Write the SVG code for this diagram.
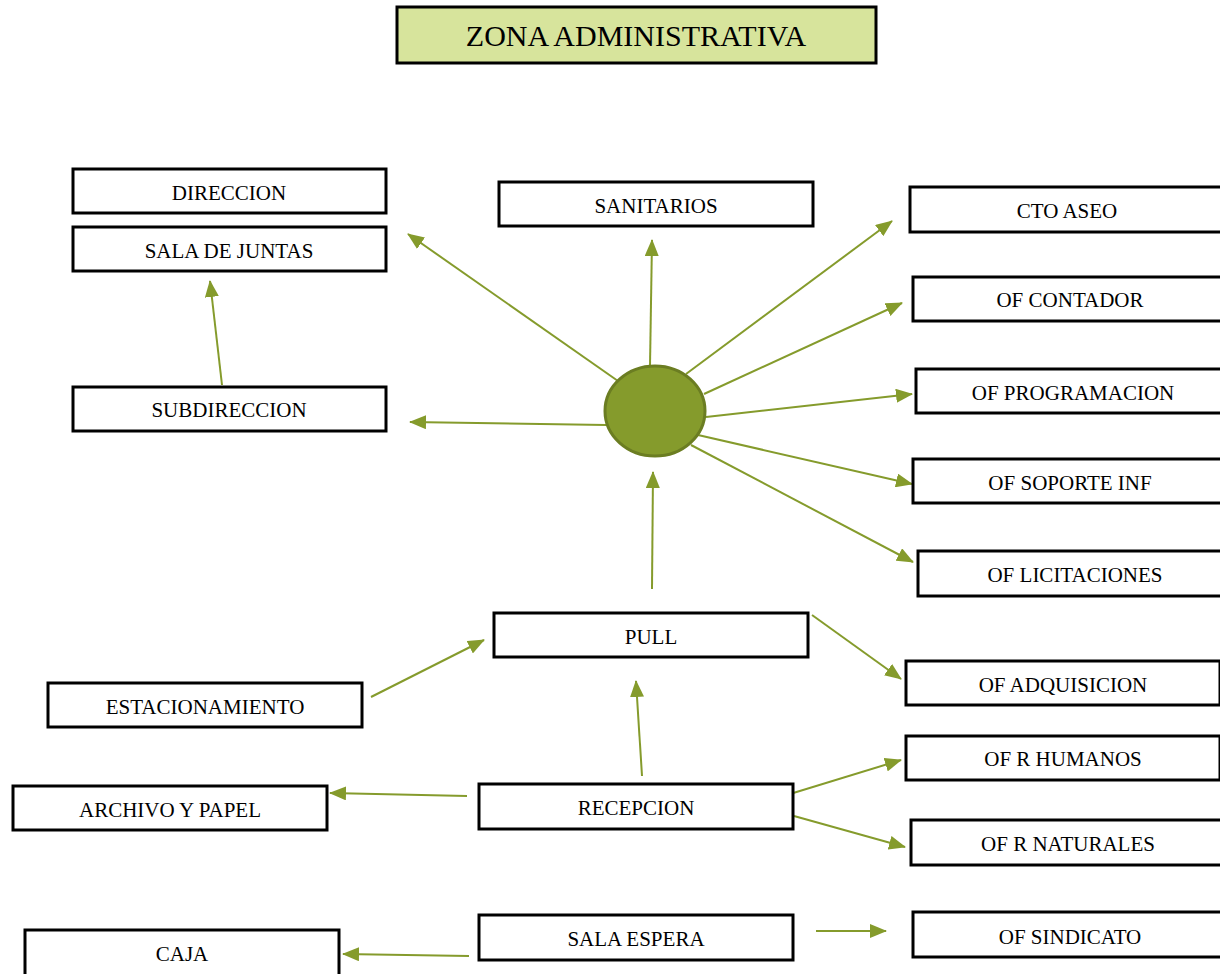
<svg xmlns="http://www.w3.org/2000/svg" width="1220" height="974" viewBox="0 0 1220 974">
<defs>
<marker id="ah" markerUnits="userSpaceOnUse" markerWidth="18" markerHeight="14" refX="16" refY="7" orient="auto">
<path d="M0,0 L17,7 L0,14 Z" fill="#859b2c"/>
</marker>
<style>
.box{fill:#fff;stroke:#000;stroke-width:3}
.t{font-family:"Liberation Serif","Times New Roman",serif;font-size:21px;fill:#000;text-anchor:middle}
.c{stroke:#859b2c;stroke-width:2;fill:none;marker-end:url(#ah)}
</style>
</defs>
<rect width="1220" height="974" fill="#fff"/>
<g id="title"><rect x="397" y="7" width="479" height="56" fill="#d7e49c" stroke="#000" stroke-width="3"/><text x="636" y="46" class="t" style="font-size:30px">ZONA ADMINISTRATIVA</text></g>
<g id="connectors">
<line class="c" x1="618" y1="381" x2="408" y2="234"/>
<line class="c" x1="650" y1="366" x2="652" y2="240"/>
<line class="c" x1="686" y1="374" x2="892" y2="221"/>
<line class="c" x1="704" y1="394" x2="902" y2="303"/>
<line class="c" x1="706" y1="417" x2="912" y2="394"/>
<line class="c" x1="698" y1="435" x2="912" y2="484"/>
<line class="c" x1="691" y1="445" x2="913" y2="562"/>
<line class="c" x1="606" y1="425" x2="410" y2="422"/>
<line class="c" x1="222" y1="385" x2="210" y2="281"/>
<line class="c" x1="652" y1="589" x2="653" y2="472"/>
<line class="c" x1="371" y1="697" x2="484" y2="640"/>
<line class="c" x1="812" y1="615" x2="901" y2="679"/>
<line class="c" x1="642" y1="776" x2="636" y2="681"/>
<line class="c" x1="467" y1="796" x2="330" y2="793"/>
<line class="c" x1="790" y1="794" x2="901" y2="760"/>
<line class="c" x1="794" y1="816" x2="905" y2="847"/>
<line class="c" x1="816" y1="931" x2="886" y2="931"/>
<line class="c" x1="469" y1="956" x2="343" y2="954"/>
</g>
<g id="hub"><ellipse cx="655" cy="411" rx="50" ry="45" fill="#859b2c" stroke="#6b7d22" stroke-width="3"/></g>
<g id="direccion"><rect class="box" x="73" y="169" width="313" height="44"/><text class="t" x="229" y="200">DIRECCION</text></g>
<g id="sala-juntas"><rect class="box" x="73" y="227" width="313" height="44"/><text class="t" x="229" y="258">SALA DE JUNTAS</text></g>
<g id="subdireccion"><rect class="box" x="73" y="387" width="313" height="44"/><text class="t" x="229" y="417">SUBDIRECCION</text></g>
<g id="sanitarios"><rect class="box" x="499" y="182" width="314" height="44"/><text class="t" x="656" y="213">SANITARIOS</text></g>
<g id="cto-aseo"><rect class="box" x="910" y="187" width="314" height="45"/><text class="t" x="1067" y="218">CTO ASEO</text></g>
<g id="of-contador"><rect class="box" x="913" y="277" width="314" height="44"/><text class="t" x="1070" y="307">OF CONTADOR</text></g>
<g id="of-programacion"><rect class="box" x="916" y="369" width="314" height="44"/><text class="t" x="1073" y="400">OF PROGRAMACION</text></g>
<g id="of-soporte"><rect class="box" x="913" y="459" width="314" height="44"/><text class="t" x="1070" y="490">OF SOPORTE INF</text></g>
<g id="of-licitaciones"><rect class="box" x="918" y="551" width="314" height="45"/><text class="t" x="1075" y="582">OF LICITACIONES</text></g>
<g id="pull"><rect class="box" x="494" y="613" width="314" height="44"/><text class="t" x="651" y="644">PULL</text></g>
<g id="of-adquisicion"><rect class="box" x="906" y="661" width="314" height="44"/><text class="t" x="1063" y="692">OF ADQUISICION</text></g>
<g id="estacionamiento"><rect class="box" x="48" y="683" width="314" height="44"/><text class="t" x="205" y="714">ESTACIONAMIENTO</text></g>
<g id="of-rhumanos"><rect class="box" x="906" y="736" width="314" height="44"/><text class="t" x="1063" y="766">OF R HUMANOS</text></g>
<g id="archivo"><rect class="box" x="13" y="786" width="314" height="44"/><text class="t" x="170" y="817">ARCHIVO Y PAPEL</text></g>
<g id="recepcion"><rect class="box" x="479" y="784" width="314" height="45"/><text class="t" x="636" y="815">RECEPCION</text></g>
<g id="of-rnaturales"><rect class="box" x="911" y="820" width="314" height="45"/><text class="t" x="1068" y="851">OF R NATURALES</text></g>
<g id="sala-espera"><rect class="box" x="479" y="915" width="314" height="45"/><text class="t" x="636" y="946">SALA ESPERA</text></g>
<g id="of-sindicato"><rect class="box" x="913" y="912" width="314" height="45"/><text class="t" x="1070" y="944">OF SINDICATO</text></g>
<g id="caja"><rect class="box" x="25" y="930" width="314" height="50"/><text class="t" x="182" y="961">CAJA</text></g>
</svg>
